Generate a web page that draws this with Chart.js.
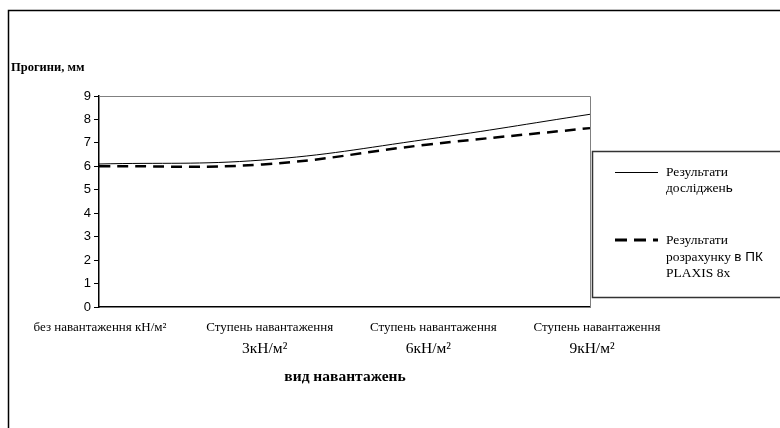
<!DOCTYPE html>
<html>
<head>
<meta charset="utf-8">
<script src="https://cdn.jsdelivr.net/npm/chart.js@4.4.0/dist/chart.umd.min.js"></script>
<style>
  body { margin: 0; background: #fff; }
  #wrap { width: 780px; height: 428px; }
</style>
</head>
<body>
<div id="wrap"><canvas id="deflectionChart" width="780" height="428"></canvas></div>
<script>
// categories (two lines each) and series values
var stageTop = ['без навантаження кН/м²', 'Ступень навантаження', 'Ступень навантаження', 'Ступень навантаження'];
var stageBottom = ['', '3кН/м²', '6кН/м²', '9кН/м²'];
var measured = [6.1, 6.27, 7.15, 8.22];
var plaxis = [6.0, 6.08, 6.92, 7.63];
var yTicks = [0, 1, 2, 3, 4, 5, 6, 7, 8, 9];

var serif = '"Liberation Serif", "Times New Roman", serif';
var sans = '"Liberation Sans", Arial, sans-serif';

var extras = {
  id: 'extras',
  beforeDraw: function(chart) {
    var ctx = chart.ctx;
    ctx.save();
    ctx.fillStyle = '#fff';
    ctx.fillRect(0, 0, chart.width, chart.height);
    ctx.restore();
  },
  afterDraw: function(chart) {
    var ctx = chart.ctx, a = chart.chartArea, xs = chart.scales.x;
    ctx.save();
    // outer frame
    ctx.strokeStyle = '#000';
    ctx.lineWidth = 1.5;
    ctx.beginPath();
    ctx.moveTo(8.5, 428); ctx.lineTo(8.5, 10.5); ctx.lineTo(780, 10.5);
    ctx.stroke();
    // plot area top/right border
    ctx.strokeStyle = '#808080';
    ctx.lineWidth = 1;
    ctx.beginPath();
    ctx.moveTo(a.left, a.top + 0.5); ctx.lineTo(a.right + 0.5, a.top + 0.5); ctx.lineTo(a.right + 0.5, a.bottom);
    ctx.stroke();

    // y title
    ctx.fillStyle = '#000';
    ctx.font = 'bold 12.5px ' + serif;
    ctx.textAlign = 'left';
    ctx.textBaseline = 'middle';
    ctx.fillText('Прогини, мм', 11, 68);

    // x labels
    ctx.textAlign = 'center';
    for (var i = 0; i < stageTop.length; i++) {
      var x = xs.getPixelForTick(i);
      ctx.font = '13px ' + serif;
      ctx.fillText(stageTop[i], x + (i === 0 ? 1 : 7), 328);
      if (stageBottom[i]) {
        ctx.font = '15.5px ' + serif;
        ctx.fillText(stageBottom[i], x + 2, 349);
      }
    }
    ctx.font = 'bold 15.5px ' + serif;
    ctx.fillText('вид навантажень', 345, 377);

    // legend
    ctx.strokeStyle = '#333';
    ctx.lineWidth = 1.5;
    ctx.strokeRect(592.5, 151.5, 200, 146);
    ctx.lineWidth = 1;
    ctx.strokeStyle = '#000';
    ctx.beginPath(); ctx.moveTo(615, 172.5); ctx.lineTo(658, 172.5); ctx.stroke();
    ctx.lineWidth = 3;
    ctx.setLineDash([12, 7]);
    ctx.beginPath(); ctx.moveTo(615, 240); ctx.lineTo(658, 240); ctx.stroke();
    ctx.setLineDash([]);
    ctx.textAlign = 'left';
    ctx.font = '13.5px ' + serif;
    ctx.fillText('Результати', 666, 172);
    var w = ctx.measureText('досліджен').width;
    ctx.fillText('досліджен', 666, 188);
    ctx.font = '13.5px ' + sans;
    ctx.fillText('ь', 666 + w, 188);
    ctx.font = '13.5px ' + serif;
    ctx.fillText('Результати', 666, 240);
    w = ctx.measureText('розрахунку ').width;
    ctx.fillText('розрахунку ', 666, 257);
    ctx.font = '13.5px ' + sans;
    ctx.fillText('в ПК', 666 + w, 257);
    ctx.font = '13.5px ' + serif;
    ctx.fillText('PLAXIS 8x', 666, 273);
    ctx.restore();
  }
};

new Chart(document.getElementById('deflectionChart'), {
  type: 'line',
  data: {
    labels: stageTop,
    datasets: [
      {
        label: 'Результати досліджень',
        data: measured,
        borderColor: '#000',
        borderWidth: 1,
        pointRadius: 0,
        tension: 0.4,
        fill: false
      },
      {
        label: 'Результати розрахунку в ПК PLAXIS 8x',
        data: plaxis,
        borderColor: '#000',
        borderWidth: 2.5,
        borderDash: [11, 7],
        pointRadius: 0,
        tension: 0.4,
        fill: false
      }
    ]
  },
  plugins: [extras],
  options: {
    responsive: false,
    animation: false,
    layout: { padding: { top: 96, right: 190, left: 0, bottom: 0 } },
    plugins: { legend: { display: false }, tooltip: { enabled: false }, title: { display: false } },
    scales: {
      x: {
        offset: false,
        afterFit: function(s) { s.height = 121; },
        grid: { display: false, drawOnChartArea: false, drawTicks: true, tickLength: 6, color: '#000' },
        border: { color: '#000', width: 1.5 },
        ticks: { display: false }
      },
      y: {
        min: 0,
        max: 9,
        afterFit: function(s) { s.width = 99; },
        afterBuildTicks: function(s) { s.ticks = yTicks.map(function(v) { return { value: v }; }); },
        grid: { drawOnChartArea: false, drawTicks: true, tickLength: 5, color: '#000' },
        border: { color: '#000', width: 1.5 },
        ticks: { color: '#000', font: { family: sans, size: 13 }, padding: 3 }
      }
    }
  }
});
</script>
</body>
</html>
